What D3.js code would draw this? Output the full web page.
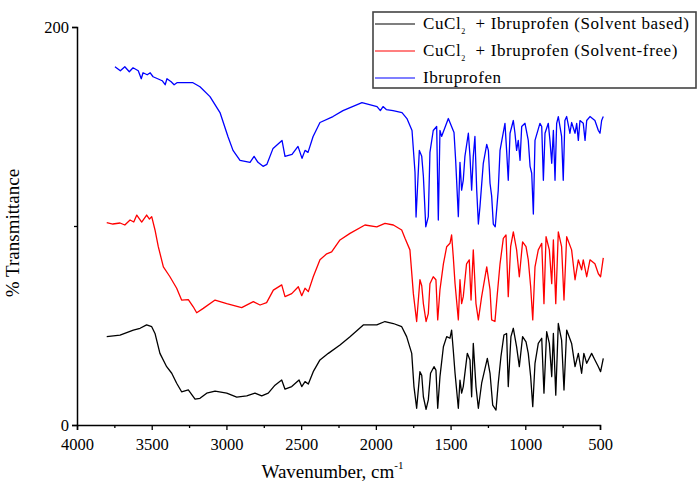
<!DOCTYPE html>
<html>
<head>
<meta charset="utf-8">
<script src="https://cdn.jsdelivr.net/npm/d3@7"></script>
<style>
  body { margin: 0; background: #fff; }
  svg, text { font-family: "Liberation Serif", "Times New Roman", Times, serif; }
</style>
</head>
<body>
<svg id="chart" width="699" height="488" font-family="Liberation Serif, serif"></svg>
<script>
// wavenumber (cm-1) and % transmittance (curves are offset as plotted)
const ibuWn = [3746, 3710, 3680, 3650, 3625, 3590, 3570, 3558, 3530, 3510, 3491, 3460, 3430, 3410, 3398, 3370, 3350, 3331, 3224, 3177, 3110, 3043, 2990, 2956, 2909, 2842, 2815, 2789, 2755, 2729, 2688, 2628, 2608, 2561, 2521, 2494, 2474, 2454, 2420, 2374, 2287, 2220, 2093, 1992, 1970, 1952, 1930, 1885, 1825, 1792, 1758, 1738,
  1731, 1709, 1693, 1682, 1666, 1649, 1638, 1616, 1593, 1582, 1571, 1560, 1515, 1477, 1466, 1448, 1437, 1426, 1415, 1404, 1381, 1370, 1359, 1348, 1337, 1325, 1314, 1303, 1281, 1258, 1247, 1236, 1225, 1214, 1201, 1181, 1169, 1136, 1125, 1114, 1102, 1080, 1069, 1058, 1047, 1035, 1024, 1002, 980, 968, 957, 946, 935, 902, 890, 879, 868, 846, 835, 823, 812, 801, 790, 779, 757, 746, 735, 723, 701, 690, 667, 656, 645, 634, 612, 600, 589, 567, 534, 511, 500, 489, 478];
const ibuT = [180, 178, 180, 177.5, 179.5, 178, 174, 177, 176, 177, 175, 174, 173, 171, 174, 172.5, 171, 172, 172, 170, 165, 157, 145, 138, 133, 132, 135, 132, 130, 131, 139, 143, 135, 136, 140, 134, 138, 137, 145, 152, 155, 158, 162, 160, 158, 160, 158.5, 158, 157, 154, 148, 127,
  104.5, 138, 135, 125, 99.6, 104.7, 137, 148, 150, 103, 148, 145, 154, 147, 133, 104.7, 132, 118, 123, 135, 146.6, 135, 118, 135, 145, 118, 101, 110, 131.5, 141, 138, 121.5, 115, 101, 99.6, 118, 138, 151.6, 138, 123, 146.6, 153, 146.6, 138, 143, 133, 150, 151.6, 143, 130, 126.5, 106, 143, 151.6, 150, 123, 146.6, 151.6, 143, 131.5, 148, 123, 151.6, 155, 145, 123, 153, 155, 146.6, 152, 146.6, 151.6, 143, 153, 151.6, 143, 153, 155, 153, 148, 146.6, 153, 155];

const freeWn = [3801, 3760, 3712, 3680, 3645, 3620, 3600, 3567, 3534, 3515, 3500, 3478, 3456, 3422, 3378, 3333, 3300, 3255, 3222, 3199, 3155, 3076, 2998, 2898, 2820, 2775, 2731, 2686, 2630, 2608, 2563, 2519, 2496, 2474, 2452, 2419, 2374, 2329, 2296, 2240, 2173, 2073, 1994, 1939, 1883, 1827, 1805, 1772, 1749,
  1727, 1705, 1693, 1682, 1664, 1649, 1638, 1616, 1598, 1586, 1571, 1548, 1526, 1504, 1493, 1482, 1470, 1448, 1437, 1426, 1415, 1393, 1375, 1363, 1348, 1330, 1314, 1292, 1258, 1236, 1225, 1203, 1187, 1169, 1147, 1129, 1114, 1098, 1080, 1058, 1040, 1018, 995, 980, 964, 950, 935, 913, 890, 875, 861, 839, 823, 812, 796, 779, 757, 741, 723, 690, 667, 645, 623, 612, 589, 567, 534, 511, 496, 478];
const freeT = [101.7, 101, 101.5, 100.5, 103, 102, 105.5, 102, 105.5, 103.5, 104.7, 98, 89.6, 79.5, 74.5, 68.7, 62.8, 63, 59.4, 56.4, 58.6, 62.8, 61, 59, 62, 60.3, 61.5, 67.8, 70.4, 64.5, 66, 69.5, 65, 68.7, 67, 74.5, 83, 86, 87, 93, 96.3, 100.5, 99.6, 101.3, 100.5, 98, 93.8, 88, 66,
  52, 73, 70, 61, 52, 56, 71, 74.5, 73, 52.8, 68, 81, 89.6, 91.3, 95.5, 84.6, 71, 52.8, 73, 61, 64.5, 81, 83, 62.8, 88, 61, 52.8, 64.5, 79.5, 68, 52.8, 52, 66, 81, 93.8, 95.5, 64.5, 89.6, 97, 88, 74.5, 92, 89.6, 83, 69.5, 52.8, 79.5, 88, 91.3, 61, 94.6, 88, 71, 93, 61, 97, 89.6, 62.8, 94.6, 88, 73, 83, 78, 83, 74.5, 83, 81, 76, 74.5, 84];

const solvWn = [3801, 3712, 3623, 3578, 3534, 3500, 3478, 3445, 3400, 3366, 3333, 3300, 3255, 3210, 3177, 3132, 3076, 2998, 2931, 2864, 2809, 2764, 2720, 2675, 2630, 2608, 2563, 2514, 2496, 2474, 2452, 2419, 2374, 2318, 2240, 2173, 2084, 1994, 1939, 1883, 1827, 1794, 1760, 1745,
  1727, 1705, 1693, 1682, 1664, 1649, 1634, 1611, 1598, 1586, 1571, 1548, 1526, 1504, 1493, 1482, 1470, 1448, 1437, 1426, 1415, 1388, 1370, 1359, 1348, 1330, 1314, 1292, 1254, 1236, 1218, 1196, 1181, 1163, 1143, 1125, 1114, 1096, 1080, 1058, 1040, 1018, 995, 980, 964, 950, 935, 913, 890, 875, 857, 839, 823, 812, 796, 779, 757, 741, 723, 690, 667, 645, 623, 608, 589, 556, 534, 511, 496, 478];
const solvT = [44.4, 45.2, 47.7, 48.6, 50.3, 49.4, 46, 36, 29.3, 26, 21, 16.7, 17.6, 13, 13.4, 16, 17, 16, 14, 14.6, 16, 14.6, 16, 20, 22.6, 18, 19.3, 22.6, 19.3, 21.8, 20.6, 26.8, 32.7, 36, 40.2, 44.4, 50.3, 50.3, 52, 51, 49.4, 44.4, 36, 19.3,
  8.4, 26.8, 25, 14.2, 7.9, 12.6, 26, 29.3, 27.6, 8.4, 24.3, 39.3, 44.4, 43.6, 47.7, 37.7, 26, 8.4, 22.6, 16, 19.3, 36, 32.7, 14.2, 41, 19.3, 8.4, 21, 33.5, 26, 10, 7.5, 21, 34.3, 45.2, 46, 19.3, 44.4, 48.6, 39.3, 29.3, 44.4, 41.8, 36, 24.3, 9.2, 31, 41, 43.6, 16, 46.9, 41, 24.3, 46, 15, 51, 42.7, 17.6, 47.7, 41, 29.3, 36, 26, 36, 31, 36, 32.7, 29.3, 26.8, 33.5];

const xTicks = [4000, 3500, 3000, 2500, 2000, 1500, 1000, 500];
const yTicks = [0, 200];

const series = [
  { wn: solvWn, t: solvT, color: "#000000" },
  { wn: freeWn, t: freeT, color: "#ff0000" },
  { wn: ibuWn, t: ibuT, color: "#0000ff" }
];

const svg = d3.select("#chart");
const margin = { top: 27, left: 77, right: 99, bottom: 63 };
const width = 699 - margin.left - margin.right,
      height = 488 - margin.top - margin.bottom;

const g = svg.append("g").attr("transform", `translate(${margin.left},${margin.top})`);

const x = d3.scaleLinear().domain([4000, 500]).range([0, width]);
const y = d3.scaleLinear().domain([0, 200]).range([height, 0]);

const line = d3.line().x(d => x(d[0])).y(d => y(d[1]));

series.forEach(s => {
  g.append("path")
    .datum(s.wn.map((w, i) => [w, s.t[i]]))
    .attr("fill", "none")
    .attr("stroke", s.color)
    .attr("stroke-width", 1.3)
    .attr("stroke-linejoin", "round")
    .attr("d", line);
});

// axes: major ticks labelled, minor ticks between
const xAxis = g.append("g")
  .attr("transform", `translate(0,${height})`)
  .call(d3.axisBottom(x).tickValues(xTicks).tickSize(5).tickFormat(d3.format("d")));
g.append("g")
  .attr("transform", `translate(0,${height})`)
  .call(d3.axisBottom(x).tickValues(d3.range(3750, 500, -500)).tickSize(3).tickFormat(""))
  .select(".domain").remove();

const yAxis = g.append("g")
  .call(d3.axisLeft(y).tickValues(yTicks).tickSize(5));
g.append("g")
  .call(d3.axisLeft(y).tickValues([100]).tickSize(3).tickFormat(""))
  .select(".domain").remove();

g.selectAll(".domain").attr("stroke-width", 1.5);
g.selectAll(".tick line").attr("stroke-width", 1.3);
g.selectAll(".tick text")
  .attr("font-family", "Liberation Serif, serif")
  .attr("font-size", 16.5)
  .attr("fill", "#000");
xAxis.selectAll(".tick text").attr("dy", "1.0em");

g.append("text")
  .attr("x", width / 2 - 6)
  .attr("y", height + 53)
  .attr("text-anchor", "middle")
  .attr("font-family", "Liberation Serif, serif")
  .attr("font-size", 19)
  .text("Wavenumber, cm")
  .append("tspan")
  .attr("dy", -9)
  .attr("font-size", 11)
  .text("-1");

g.append("text")
  .attr("transform", "rotate(-90)")
  .attr("x", -height / 2 - 7)
  .attr("y", -58)
  .attr("text-anchor", "middle")
  .attr("font-family", "Liberation Serif, serif")
  .attr("font-size", 19)
  .text("% Transmittance");

// legend
const legend = svg.append("g").attr("transform", "translate(373,12)");
legend.append("rect")
  .attr("width", 323).attr("height", 76)
  .attr("fill", "#fff")
  .attr("stroke", "#444")
  .attr("stroke-width", 1.6);

const rows = [
  { color: "#000000", cu: true, text: "  + Ibruprofen (Solvent based)" },
  { color: "#ff0000", cu: true, text: "  + Ibruprofen (Solvent-free)" },
  { color: "#0000ff", cu: false, text: "Ibruprofen" }
];

rows.forEach((r, i) => {
  const ry = 12 + i * 27;
  legend.append("line")
    .attr("x1", 2).attr("x2", 42)
    .attr("y1", ry).attr("y2", ry)
    .attr("stroke", r.color).attr("stroke-width", 1.2);
  const t = legend.append("text")
    .attr("x", 50).attr("y", ry + 5)
    .attr("font-family", "Liberation Serif, serif")
    .attr("font-size", 17)
    .attr("letter-spacing", 0.6)
    .attr("xml:space", "preserve")
    .style("white-space", "pre");
  if (r.cu) {
    t.append("tspan").text("CuCl");
    t.append("tspan").attr("dy", 5).attr("font-size", 8).text("2");
    t.append("tspan").attr("dy", -5).text(r.text);
  } else {
    t.append("tspan").text(r.text);
  }
});
</script>
</body>
</html>
